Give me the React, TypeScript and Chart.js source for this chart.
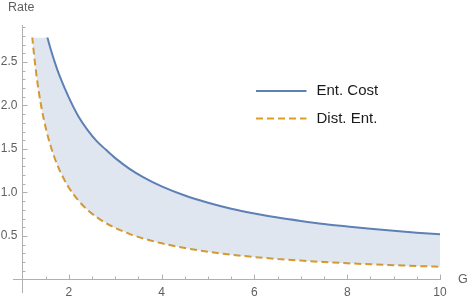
import React, { useEffect, useRef } from "react";
import { Chart, registerables } from "chart.js";

Chart.register(...registerables);

// ---- data ----
const gValues = [1.15, 1.2, 1.3, 1.4, 1.5, 1.6, 1.7, 1.8, 2.0, 2.2, 2.4, 2.6, 2.8, 3.0, 3.3, 3.6, 4.0, 4.5, 5.0, 5.5, 6.0, 6.5, 7.0, 7.5, 8.0, 8.5, 9.0, 9.5, 10.0];
const entCost = [3.9, 3.7, 3.37, 3.09, 2.86, 2.66, 2.49, 2.34, 2.09, 1.88, 1.72, 1.59, 1.49, 1.395, 1.275, 1.177, 1.07, 0.965, 0.882, 0.814, 0.759, 0.712, 0.673, 0.638, 0.609, 0.582, 0.559, 0.538, 0.52];
const distEnt = [3.17, 2.84, 2.35, 2.0, 1.745, 1.545, 1.385, 1.255, 1.055, 0.91, 0.8, 0.716, 0.648, 0.593, 0.525, 0.472, 0.416, 0.361, 0.319, 0.285, 0.258, 0.236, 0.217, 0.201, 0.187, 0.175, 0.165, 0.155, 0.147];
const seriesNames = ["Ent. Cost", "Dist. Ent."];
const xTickValues = [2, 4, 6, 8, 10];
const yTickValues = [0.5, 1.0, 1.5, 2.0, 2.5];
const xAxisTitle = "G";
const yAxisTitle = "Rate";

const BLUE = "rgb(94,129,181)";
const ORANGE = "rgb(225,156,36)";
const FILL = "rgba(94,129,181,0.2)";
const AXIS = "#b0b0b0";
const LABEL = "#606060";
const FONT = "'Liberation Sans', Arial, sans-serif";

const mmaAxes = {
  id: "mmaAxes",
  afterDraw(chart: any) {
    const ctx = chart.ctx;
    const xs = chart.scales.x;
    const ys = chart.scales.y;
    const x0 = xs.getPixelForValue(1);
    const y0 = ys.getPixelForValue(0);
    ctx.save();
    ctx.strokeStyle = AXIS;
    ctx.lineWidth = 1;
    ctx.beginPath();
    ctx.moveTo(x0 - 9.5, y0);
    ctx.lineTo(xs.getPixelForValue(10) + 1, y0);
    ctx.moveTo(x0, y0 + 13.5);
    ctx.lineTo(x0, ys.getPixelForValue(2.925));
    for (let k = 3; k <= 20; k++) {
      const v = k / 2;
      const px = Math.round(xs.getPixelForValue(v)) + 0.5;
      const len = k % 4 === 0 ? 5 : 3;
      ctx.moveTo(px, y0);
      ctx.lineTo(px, y0 - len);
    }
    for (let k = 1; k <= 29; k++) {
      const v = k / 10;
      const py = Math.round(ys.getPixelForValue(v)) + 0.5;
      const len = k % 5 === 0 ? 5 : 3;
      ctx.moveTo(x0, py);
      ctx.lineTo(x0 + len, py);
    }
    ctx.stroke();

    // axis titles
    ctx.fillStyle = LABEL;
    ctx.font = `12.5px ${FONT}`;
    ctx.textBaseline = "middle";
    ctx.textAlign = "left";
    ctx.fillText(yAxisTitle, 8, 8);
    ctx.fillText(xAxisTitle, 458, y0);

    // legend
    const lx0 = 256, lx1 = 306.5, tx = 316.5;
    const rows = [91, 118.5];
    ctx.lineWidth = 2;
    ctx.strokeStyle = BLUE;
    ctx.setLineDash([]);
    ctx.beginPath();
    ctx.moveTo(lx0, rows[0]);
    ctx.lineTo(lx1, rows[0]);
    ctx.stroke();
    ctx.strokeStyle = ORANGE;
    ctx.setLineDash([7, 4]);
    ctx.beginPath();
    ctx.moveTo(lx0, rows[1]);
    ctx.lineTo(lx1, rows[1]);
    ctx.stroke();
    ctx.setLineDash([]);
    ctx.fillStyle = "#1a1a1a";
    ctx.font = `15px ${FONT}`;
    ctx.fillText(seriesNames[0], tx, rows[0]);
    ctx.fillText(seriesNames[1], tx, rows[1]);
    ctx.restore();
  },
};

export default function App() {
  const ref = useRef<HTMLCanvasElement | null>(null);
  useEffect(() => {
    if (!ref.current) return;
    const chart = new Chart(ref.current, {
      type: "line",
      data: {
        datasets: [
          {
            label: seriesNames[0],
            data: gValues.map((g, i) => ({ x: g, y: entCost[i] })),
            borderColor: BLUE,
            borderWidth: 2,
            pointRadius: 0,
            fill: "+1",
            backgroundColor: FILL,
            cubicInterpolationMode: "monotone",
          },
          {
            label: seriesNames[1],
            data: gValues.map((g, i) => ({ x: g, y: distEnt[i] })),
            borderColor: ORANGE,
            borderWidth: 2,
            borderDash: [7, 4],
            pointRadius: 0,
            fill: false,
            cubicInterpolationMode: "monotone",
          },
        ],
      },
      options: {
        animation: false,
        responsive: false,
        maintainAspectRatio: false,
        layout: { padding: { top: 37.6, right: 31, left: 0, bottom: 0 } },
        plugins: { legend: { display: false }, tooltip: { enabled: false } },
        scales: {
          x: {
            type: "linear",
            min: 1,
            max: 10,
            grid: { display: false, drawTicks: false },
            border: { display: false },
            afterBuildTicks: (s: any) => {
              s.ticks = xTickValues.map((v) => ({ value: v }));
            },
            afterFit: (s: any) => {
              s.height = 22.5;
            },
            ticks: {
              padding: 6,
              color: LABEL,
              maxRotation: 0,
              autoSkip: false,
              font: { family: FONT, size: 12 },
              callback: (v: any) => String(v),
            },
          },
          y: {
            type: "linear",
            min: 0,
            max: 2.78,
            grid: { display: false, drawTicks: false },
            border: { display: false },
            afterBuildTicks: (s: any) => {
              s.ticks = yTickValues.map((v) => ({ value: v }));
            },
            afterFit: (s: any) => {
              s.width = 22.5;
            },
            ticks: {
              padding: 5,
              color: LABEL,
              autoSkip: false,
              font: { family: FONT, size: 12 },
              callback: (v: any) => Number(v).toFixed(1),
            },
          },
        },
      },
      plugins: [mmaAxes],
    });
    return () => chart.destroy();
  }, []);
  return (
    <div style={{ position: "absolute", left: 0, top: 0, width: 471, height: 302, background: "#fff" }}>
      <canvas ref={ref} width={471} height={302} style={{ display: "block", width: 471, height: 302 }} />
    </div>
  );
}
